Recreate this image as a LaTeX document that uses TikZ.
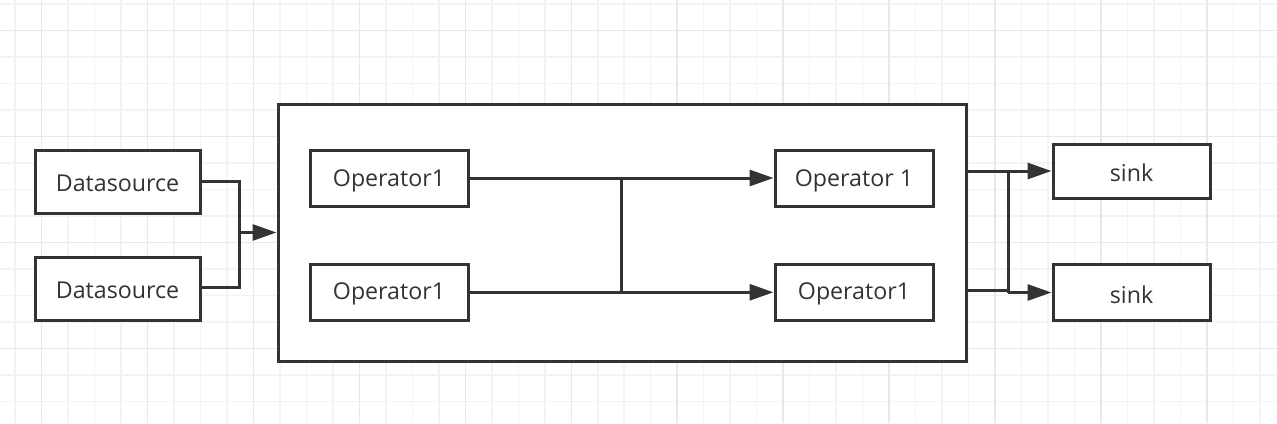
\documentclass[tikz,border=0pt]{standalone}
\usepackage{fontspec}
\setmainfont{Open Sans}
\usetikzlibrary{arrows.meta}
\definecolor{ink}{HTML}{333333}
\definecolor{gridminor}{HTML}{F3F3F3}
\definecolor{gridmajor}{HTML}{E8E8E8}
\newcommand\boxlbl[1]{\raisebox{-2pt}[\height][\depth]{#1}}
\tikzset{
  box/.style={draw=ink, line width=3pt, fill=white, text=ink, inner sep=0pt,
    font=\fontsize{23.2}{26}\selectfont},
  wire/.style={draw=ink, line width=3pt},
  arr/.style={wire, -{Triangle[length=24pt,width=16pt]}},
}
\begin{document}
\begin{tikzpicture}[x=1pt,y=-1pt]
\useasboundingbox (0,0) rectangle (1277,423);
\fill[white] (0,0) rectangle (1277,423);
% grid
\foreach \i in {0,...,48} \draw[gridminor, line width=1.5pt] (15.2+26.48*\i,0) -- (15.2+26.48*\i,423);
\foreach \j in {0,...,16} \draw[gridminor, line width=1.5pt] (0,4.2+26.48*\j) -- (1277,4.2+26.48*\j);
\foreach \i in {0,...,11} \draw[gridmajor, line width=1.5pt] (41.7+105.92*\i,0) -- (41.7+105.92*\i,423);
\foreach \j in {0,...,3} \draw[gridmajor, line width=1.5pt] (0,30.7+105.92*\j) -- (1277,30.7+105.92*\j);

% container
\node[box, minimum width=688pt, minimum height=257pt] (cont) at (622,232.5) {};

% sources
\node[box, minimum width=165pt, minimum height=63pt] (ds1) at (117.5,181.5) {\boxlbl{Datasource}};
\node[box, minimum width=165pt, minimum height=63pt] (ds2) at (117.5,288.5) {\boxlbl{Datasource}};

% operators
\node[box, minimum width=158pt, minimum height=56pt] (opl1) at (389,178.5) {\boxlbl{Operator1}};
\node[box, minimum width=158pt, minimum height=56pt] (opl2) at (389,292) {\boxlbl{Operator1}};
\node[box, minimum width=158pt, minimum height=56pt] (opr1) at (854,178.5) {\boxlbl{Operator 1}};
\node[box, minimum width=158pt, minimum height=56pt] (opr2) at (854,292) {\boxlbl{Operator1}};

% sinks
\node[box, minimum width=157pt, minimum height=54pt] (sk1) at (1131.5,171) {\boxlbl{sink}};
\node[box, minimum width=157pt, minimum height=56pt] (sk2) at (1131.5,292.5) {\boxlbl{sink}};

% left merge
\coordinate (jl) at (239,232.5);
\draw[wire] (ds1.east |- 0,181) -| (jl);
\draw[wire] (ds2.east |- 0,287) -| (jl);
\draw[arr] (jl) -- (cont.west);

% operator links
\draw[arr] (opl1.east |- 0,178) -- (opr1.west |- 0,178);
\draw[arr] (opl2.east |- 0,292.3) -- (opr2.west |- 0,292.3);
\coordinate (mt) at (621,178);
\coordinate (mb) at (621,292.3);
\draw[wire] (mt) -- (mb);

% right split
\coordinate (rt) at (1008,171);
\coordinate (rb) at (1008,290.5);
\coordinate (rb2) at (1008,292.5);
\draw[arr] (cont.east |- rt) -- (sk1.west |- rt);
\draw[wire] (cont.east |- rb) -- (rb);
\draw[wire] (rt) -- (rb2);
\draw[arr] (rb2) -- (sk2.west);
\end{tikzpicture}
\end{document}
